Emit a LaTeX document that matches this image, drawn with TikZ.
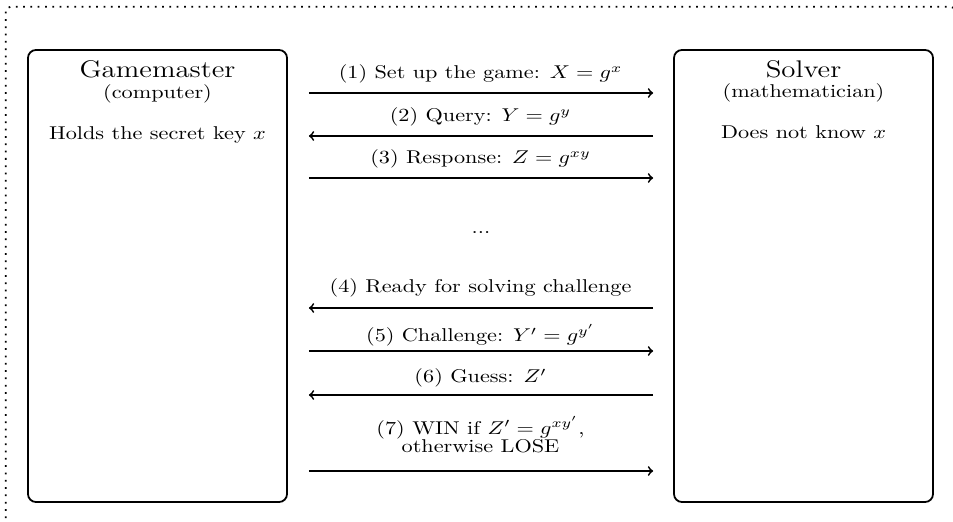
\documentclass[tikz,border=0pt]{standalone}
\usepackage{graphicx}
% horizontally widened text, as in the original figure
\newcommand\wide[1]{\scalebox{1.2}[1]{#1}}
\begin{document}
\begin{tikzpicture}[x=0.54pt, y=-0.54pt,
  box/.style={draw, line width=0.95pt, rounded corners=4.3pt,
    minimum width=139.86pt, minimum height=244.08pt, inner sep=0pt},
  title/.style={anchor=base, inner sep=0pt, font=\fontsize{13}{15}\selectfont},
  txt/.style={anchor=base, inner sep=0pt},
  msg/.style={line width=0.95pt, ->},
  fwd/.style={msg, shorten <=11.34pt, shorten >=10.8pt},
  bwd/.style={msg, shorten <=10.8pt, shorten >=11.34pt},
  lbl/.style={anchor=base, inner sep=0pt, yshift=#1*0.54pt},
  frame/.style={line width=0.95pt, dash pattern=on 0.95pt off 3pt, rounded corners=2.7pt}
]
\useasboundingbox (0,0) rectangle (953,522);
\draw[frame] (5.7,6.7) rectangle (955.5,524.5);

% the two parties
\node[box] (gm) at (157.5,276) {};
\node[box] (sv) at (803.5,276) {};
\node[title] (gmt) at (157.5,78) {\wide{Gamemaster}};
\node[txt] (gms) at (157.5,99) {\wide{(computer)}};
\node[txt] (gmn) at (157.5,140) {\wide{Holds the secret key $x$}};
\node[title] (svt) at (803.5,78) {\wide{Solver}};
\node[txt] (svs) at (803.5,98) {\wide{(mathematician)}};
\node[txt] (svn) at (803.5,139) {\wide{Does not know $x$}};

% message exchange
\draw[fwd] (gm.east |- 0,93) -- node[lbl=14] {\wide{(1) Set up the game: $X=g^x$}} (sv.west |- 0,93);
\draw[bwd] (sv.west |- 0,136) -- node[lbl=14] {\wide{(2) Query: $Y=g^y$}} (gm.east |- 0,136);
\draw[fwd] (gm.east |- 0,178) -- node[lbl=14] {\wide{(3) Response: $Z=g^{xy}$}} (sv.west |- 0,178);

\node[txt] (dots) at (481,234) {\wide{...}};

\draw[bwd] (sv.west |- 0,308) -- node[lbl=15] {\wide{(4) Ready for solving challenge}} (gm.east |- 0,308);
\draw[fwd] (gm.east |- 0,351) -- node[lbl=9] {\wide{(5) Challenge: $Y'=g^{y'}$}} (sv.west |- 0,351);
\draw[bwd] (sv.west |- 0,395) -- node[lbl=12] {\wide{(6) Guess: $Z'$}} (gm.east |- 0,395);
\draw[fwd] (gm.east |- 0,471) -- node[lbl=19] {\wide{\begin{tabular}[b]{@{}c@{}}(7) WIN if $Z'=g^{xy'}$,\\[-2.3pt] otherwise LOSE\end{tabular}}} (sv.west |- 0,471);
\end{tikzpicture}
\end{document}
